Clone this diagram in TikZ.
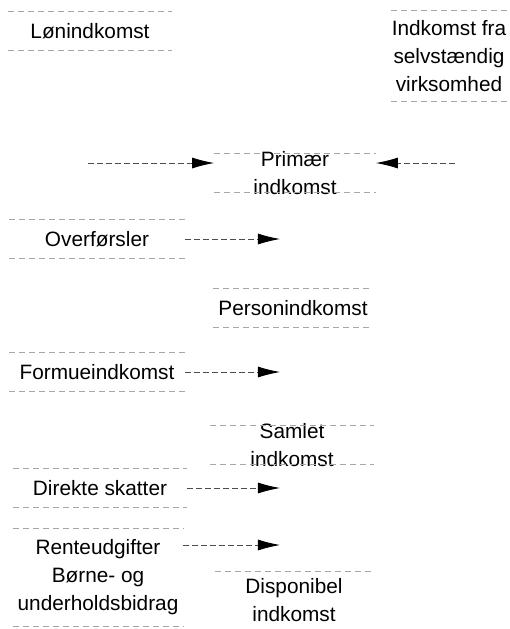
\documentclass[tikz,border=0pt]{standalone}
\usepackage{fontspec}
\setmainfont{Liberation Sans}
\usetikzlibrary{arrows.meta}

\begin{document}
\begin{tikzpicture}[x=0.5pt, y=-0.5pt]
  \tikzstyle{box} = [rectangle, inner xsep=0pt, inner ysep=1pt, minimum height=19pt, align=center, font=\fontsize{10.4}{14}\selectfont]
  \tikzstyle{rim} = [gray!70, line width=0.4pt, dash pattern=on 3pt off 2pt]
  \tikzstyle{arrow} = [gray!60!black, line width=0.4pt, dash pattern=on 3pt off 1.5pt, -{Latex[length=11pt,width=5.5pt,color=black]}]

  \useasboundingbox (0,0) rectangle (510,629);

  \node (lon) [box, minimum width=82pt] at (90,31) {Lønindkomst};
  \node (selv) [box, minimum width=56pt, minimum height=45pt] at (449,56) {Indkomst fra\\selvstændig\\virksomhed};
  \node (prim) [box, minimum width=80.5pt, inner ysep=-2.5pt] at (295,173) {Primær\\indkomst};
  \node (over) [box, minimum width=87.5pt] at (97,239) {Overførsler};
  \node (pers) [box, minimum width=79.5pt] at (293,308) {Personindkomst};
  \node (form) [box, minimum width=87.5pt] at (97,372) {Formueindkomst};
  \node (saml) [box, minimum width=81.5pt, inner ysep=-2.5pt] at (292,445) {Samlet\\indkomst};
  \node (dir) [box, minimum width=86.5pt] at (100,488) {Direkte skatter};
  \node (rent) [box, minimum width=85pt, minimum height=48.5pt] at (98,577) {Renteudgifter\\Børne- og\\underholdsbidrag};
  \node (disp) [box, minimum width=79pt, minimum height=28.5pt] at (294,600) {Disponibel\\indkomst};

  % box edges, only top and bottom show
  \foreach \n in {lon,selv,prim,over,pers,form,saml,dir,rent,disp} {
    \draw [rim] (\n.north west) -- (\n.north east);
    \draw [rim] (\n.south west) -- (\n.south east);
  }

  \coordinate (lonout) at (88,163);
  \coordinate (selvout) at (455,163);
  \coordinate (overin) at (280,239);
  \coordinate (formin) at (280,372);
  \coordinate (dirin) at (280,488);
  \coordinate (rentin) at (280,545);

  \draw [arrow] (lonout) -- (lonout -| prim.west);
  \draw [arrow] (selvout) -- (selvout -| prim.east);
  \draw [arrow] (over) -- (overin);
  \draw [arrow] (form) -- (formin);
  \draw [arrow] (dir) -- (dirin);
  \draw [arrow] (rentin -| rent.east) -- (rentin);
\end{tikzpicture}
\end{document}
